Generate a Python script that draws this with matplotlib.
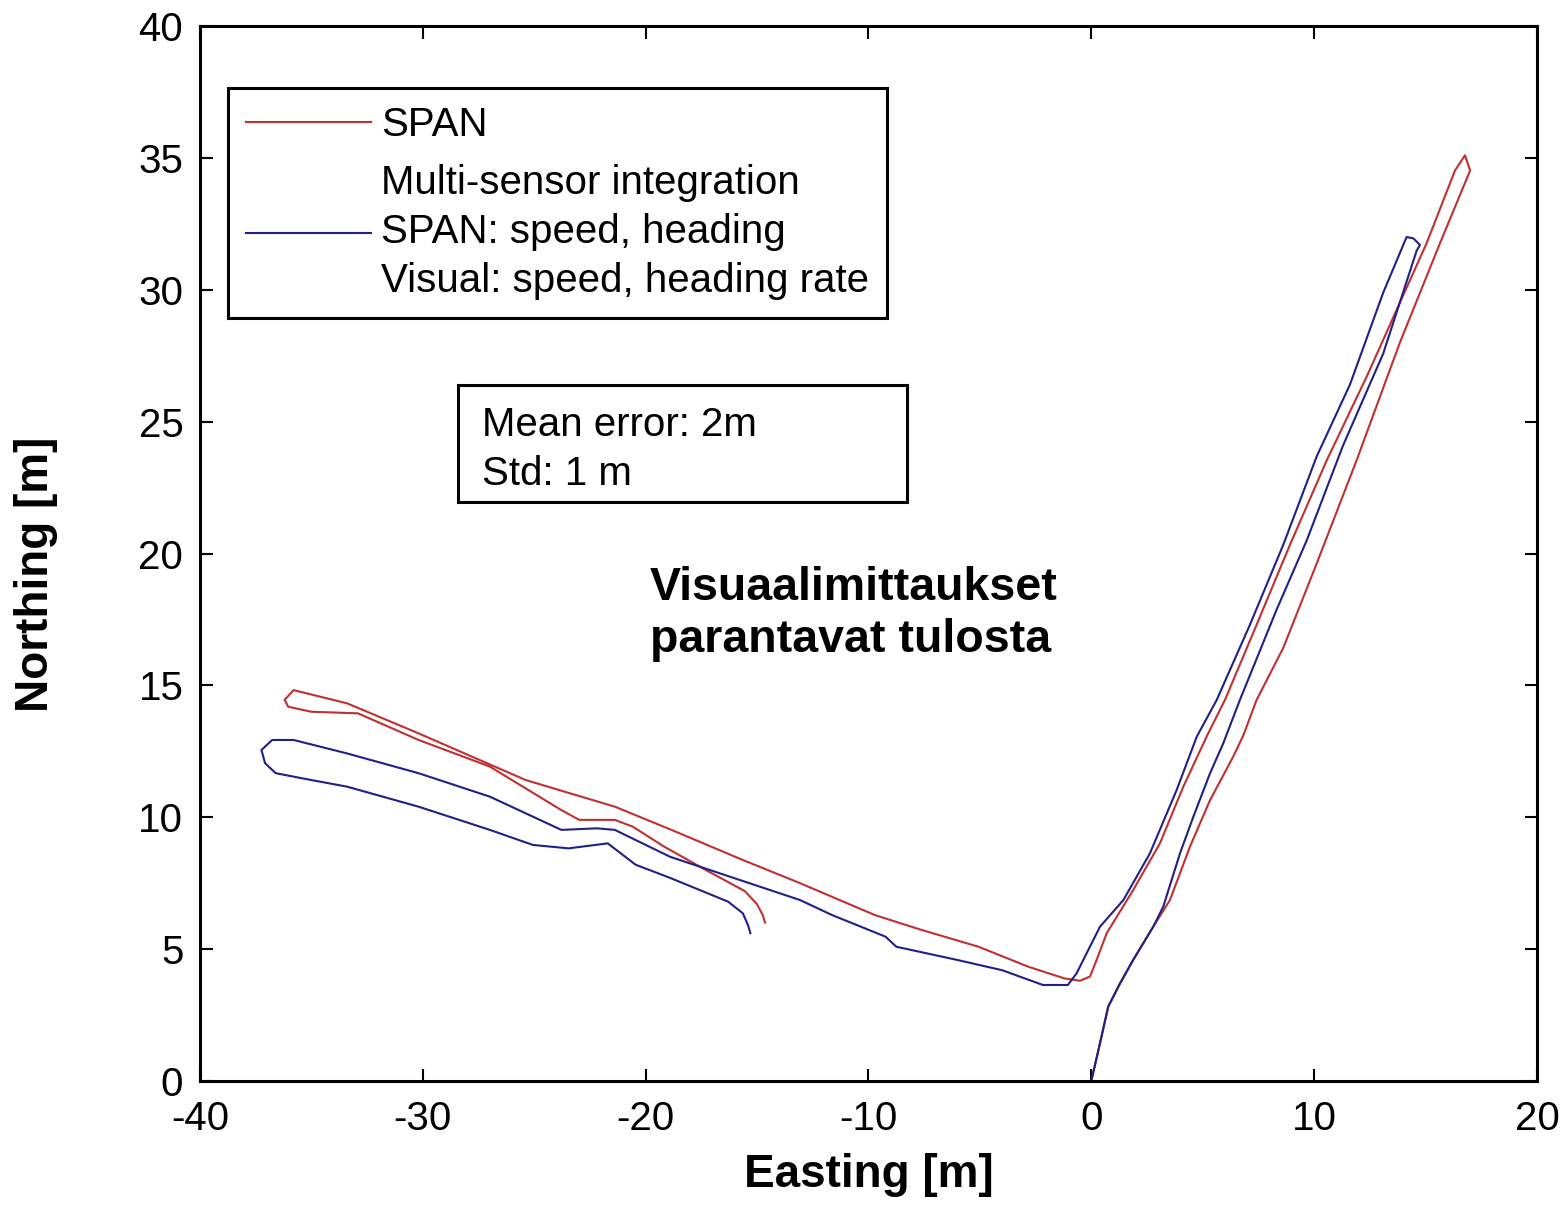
import matplotlib
matplotlib.use("Agg")
import matplotlib.pyplot as plt
from matplotlib.patches import Rectangle

plt.rcParams['font.family'] = ['Liberation Sans', 'DejaVu Sans']
plt.rcParams['axes.unicode_minus'] = False

# SPAN reference trajectory (red)
span_east = [0, 0.39, 0.76, 1.29, 1.88, 2.78, 3.53, 4.43, 5.33, 6.37, 6.82, 7.42, 8.62,
             10.11, 11.9, 13.85, 15.65, 17.0, 16.77, 16.32, 15.05, 12.36, 10.56, 8.92,
             7.42, 6.0, 5.2, 4.13, 3.08, 1.88, 0.69, 0.24, -0.06, -0.5, -1.21, -2.82,
             -5.06, -7.63, -9.71, -13.07, -15.64, -18.84, -21.38, -25.38, -30.19, -33.4,
             -35.8, -36.2, -36.04, -35.0, -32.91, -30.19, -26.99, -23.78, -22.98, -21.38,
             -20.57, -19.2, -17.3, -15.55, -15.0, -14.75, -14.64]
span_north = [0, 1.43, 2.82, 3.7, 4.59, 5.85, 6.86, 8.89, 10.65, 12.3, 13.1, 14.45, 16.43,
              19.61, 23.52, 28.0, 31.77, 34.52, 35.1, 34.52, 31.77, 26.71, 23.52, 20.34,
              17.3, 14.45, 13.1, 11.16, 9.01, 7.24, 5.6, 4.59, 3.96, 3.8, 3.89, 4.33,
              5.09, 5.73, 6.29, 7.5, 8.38, 9.52, 10.4, 11.41, 13.18, 14.32,
              14.82, 14.45, 14.19, 14.0, 13.94, 12.93, 11.92, 10.27, 9.9, 9.9,
              9.64, 8.9, 8.0, 7.2, 6.7, 6.3, 6.0]

# multi-sensor integration trajectory (blue)
integ_east = [0, 0.39, 0.76, 1.29, 1.88, 2.78, 3.23, 3.98, 4.58, 5.33, 5.92, 6.67, 8.32,
              9.66, 11.3, 13.1, 14.6, 14.75, 14.45, 14.15, 13.1, 11.61, 10.11, 8.62, 7.12,
              5.63, 4.73, 3.83, 2.63, 1.44, 0.39, -0.36, -0.66, -1.05, -2.17, -4.0, -6.02,
              -8.75, -9.23, -11.63, -13.07, -15.7, -18.9, -21.38, -22.18, -23.78, -26.99,
              -30.19, -33.4, -35.8, -36.76, -37.24, -37.08, -36.6, -35.0, -33.4, -30.19,
              -26.99, -25.06, -23.46, -21.7, -20.45, -18.9, -16.3, -15.64, -15.4, -15.3]
integ_north = [0, 1.43, 2.82, 3.7, 4.59, 5.85, 6.61, 8.63, 10.02, 11.67, 12.8, 14.45, 17.88,
               20.48, 24.1, 27.58, 31.48, 31.7, 31.95, 32.0, 29.89, 26.41, 23.67, 20.34, 17.3,
               14.45, 13.05, 11.03, 8.63, 6.86, 5.85, 4.59, 4.08, 3.64, 3.64, 4.2, 4.59,
               5.09, 5.47, 6.29, 6.86, 7.6, 8.5, 9.52, 9.58, 9.52, 10.78,
               11.67, 12.42, 12.93, 12.93, 12.55, 12.05, 11.67, 11.41, 11.16, 10.4,
               9.52, 8.95, 8.82, 9.01, 8.2, 7.7, 6.8, 6.36, 5.9, 5.6]

labels = ['SPAN', 'Multi-sensor integration\nSPAN: speed, heading\nVisual: speed, heading rate']
stats_text = 'Mean error: 2m\nStd: 1 m'
note_text = 'Visuaalimittaukset\nparantavat tulosta'
xticks = [-40, -30, -20, -10, 0, 10, 20]
yticks = [0, 5, 10, 15, 20, 25, 30, 35, 40]

fig = plt.figure(figsize=(15.61, 12.22), dpi=100)
ax = fig.add_axes([0.1281, 0.1154, 0.8565, 0.8633])

ax.plot(span_east, span_north, color='#c03030', lw=1.5, label=labels[0])
ax.plot(integ_east, integ_north, color='#202088', lw=1.5, label=labels[1])

ax.set_xlim(-40, 20)
ax.set_ylim(0, 40)
ax.set_xticks(xticks)
ax.set_yticks(yticks)
ax.tick_params(direction='in', length=9, width=1.5, labelsize=29,
               top=True, right=True)
ax.tick_params(axis='x', pad=14)
ax.tick_params(axis='y', pad=12)
for s in ax.spines.values():
    s.set_linewidth(2.2)

ax.set_xlabel('Easting [m]', fontsize=33, fontweight='bold', va='center')
ax.set_ylabel('Northing [m]', fontsize=33, fontweight='bold', va='center')
ax.xaxis.set_label_coords(0.5, -0.089)
ax.yaxis.set_label_coords(-0.1225, 0.4806)

leg = ax.legend(loc='upper left', bbox_to_anchor=(0.0209, 0.9412), borderaxespad=0,
                fontsize=29, handlelength=3.1, handletextpad=0.25, labelspacing=0.5,
                borderpad=0.45, fancybox=False, framealpha=1, edgecolor='black')
leg.get_frame().set_linewidth(2.2)
for t in leg.get_texts():
    t.set_linespacing(1.36)

ax.add_patch(Rectangle((0.193, 0.5488), 0.3358, 0.1109, transform=ax.transAxes,
                       fill=False, edgecolor='black', lw=2.2))
ax.text(0.211, 0.5985, stats_text, transform=ax.transAxes, fontsize=29,
        ha='left', va='center', linespacing=1.38)

ax.text(0.3366, 0.4427, note_text, transform=ax.transAxes, fontsize=33.5,
        fontweight='bold', ha='left', va='center', linespacing=1.25)

fig.savefig('out.png', dpi=100)
